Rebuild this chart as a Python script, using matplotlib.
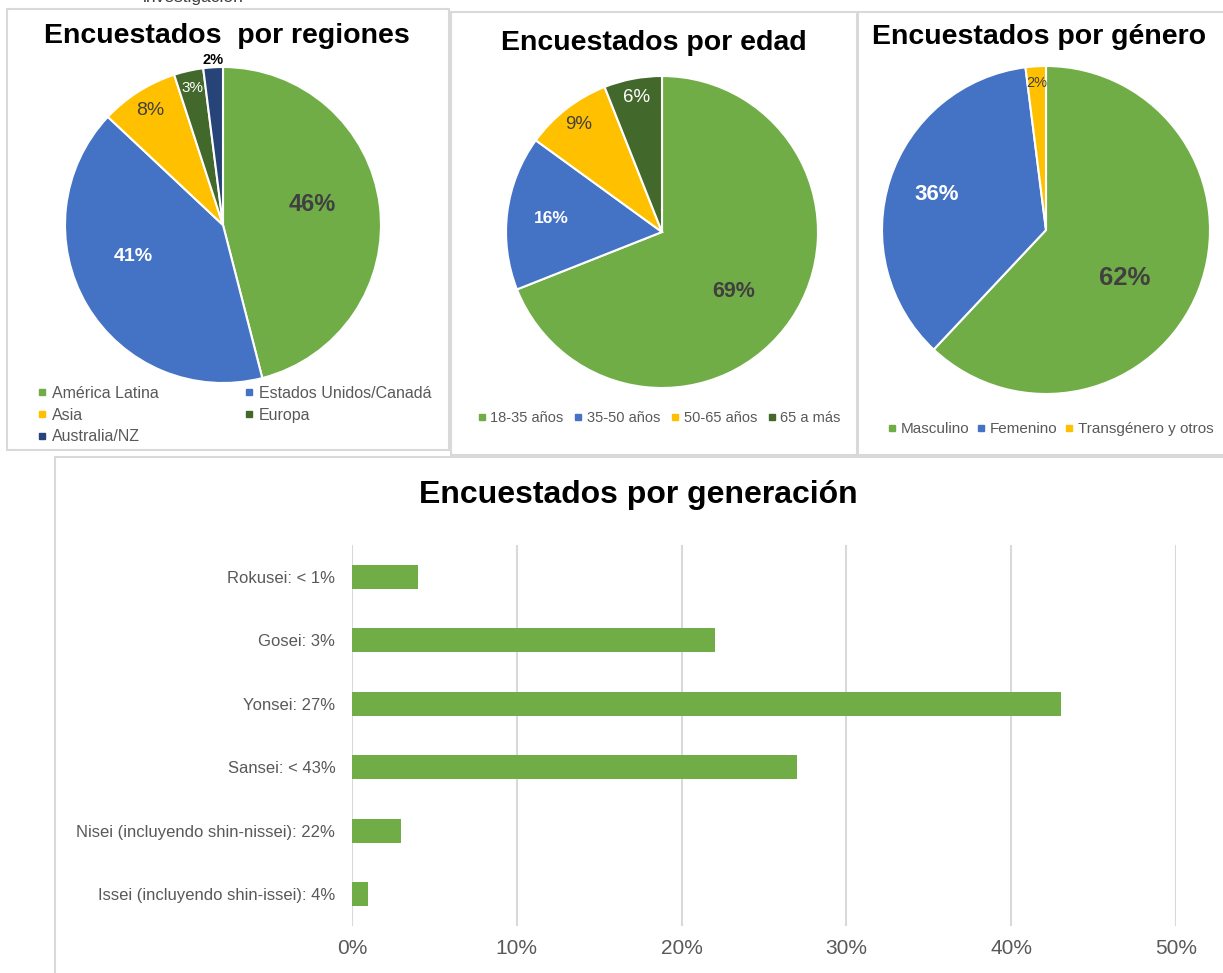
import matplotlib
matplotlib.use('Agg')
import matplotlib.pyplot as plt
from matplotlib.patches import Rectangle
from matplotlib.lines import Line2D
import numpy as np

plt.rcParams['font.family'] = ['Liberation Sans', 'DejaVu Sans']

W, H = 1223, 973

# datos
regiones = ['América Latina', 'Estados Unidos/Canadá', 'Asia', 'Europa', 'Australia/NZ']
regiones_pct = [46, 41, 8, 3, 2]
edades = ['18-35 años', '35-50 años', '50-65 años', '65 a más']
edades_pct = [69, 16, 9, 6]
generos = ['Masculino', 'Femenino', 'Transgénero y otros']
generos_pct = [62, 36, 2]
generaciones = ['Issei (incluyendo shin-issei): 4%', 'Nisei (incluyendo shin-nissei): 22%',
                'Sansei: < 43%', 'Yonsei: 27%', 'Gosei: 3%', 'Rokusei: < 1%']
generaciones_pct = [1, 3, 27, 43, 22, 4]
xticks_pct = [0, 10, 20, 30, 40, 50]

verde = '#70AD47'
azul = '#4472C4'
amarillo = '#FFC000'
verde_osc = '#43682B'
azul_osc = '#264478'
gris_txt = '#595959'
oscuro = '#404040'
borde = '#D9D9D9'


def caja(x0, y0, x1, y1):
    # pixeles (origen arriba izq) -> fraccion de figura
    return [x0 / W, 1 - y1 / H, (x1 - x0) / W, (y1 - y0) / H]


fig = plt.figure(figsize=(W / 100, H / 100), dpi=100)
fig.patch.set_facecolor('white')

# marcos de los paneles
for (x0, y0, x1, y1) in [(7, 9, 449, 450), (451, 12, 857, 455), (858, 12, 1230, 455), (55, 457, 1230, 980)]:
    fig.add_artist(Rectangle((x0 / W, 1 - y1 / H), (x1 - x0) / W, (y1 - y0) / H,
                             transform=fig.transFigure, fill=False, edgecolor=borde, linewidth=1.5))

# texto cortado arriba (viene de la pagina original)
fig.text(143 / W, 1 - 2 / H, 'investigación', fontsize=12.5, color=oscuro, va='baseline', ha='left')


def torta(cx, cy, r, vals, cols, dist, nudge, estilos):
    ax = fig.add_axes(caja(cx - r, cy - r, cx + r, cy + r))
    wedges, _ = ax.pie(vals, colors=cols, startangle=90, counterclock=False,
                       wedgeprops=dict(edgecolor='white', linewidth=1.5))
    ax.set_xlim(-1, 1)
    ax.set_ylim(-1, 1)
    for w, v, d, n, (sz, wt, c) in zip(wedges, vals, dist, nudge, estilos):
        a = np.deg2rad((w.theta1 + w.theta2) / 2 + n)
        ax.text(d * np.cos(a), d * np.sin(a), f'{v}%', ha='center', va='center',
                fontsize=sz, fontweight=wt, color=c, clip_on=False)
    return ax


def leyenda(ax, nombres, cols, x, y, ncol, fs, colsp, orden=None, lsp=0.3):
    hs = [Line2D([], [], marker='s', linestyle='', markersize=4.5, color=c) for c in cols]
    if orden is not None:
        hs = [hs[i] for i in orden]
        nombres = [nombres[i] for i in orden]
    ax.legend(hs, nombres, loc='upper left', bbox_to_anchor=(x / W, 1 - y / H),
              bbox_transform=fig.transFigure, ncol=ncol, frameon=False, fontsize=fs,
              labelcolor=gris_txt, handlelength=0.5, handletextpad=0.35,
              columnspacing=colsp, borderpad=0, borderaxespad=0, labelspacing=lsp)


# Encuestados por regiones
ax1 = torta(223, 225, 158, regiones_pct, [verde, azul, amarillo, verde_osc, azul_osc],
            [0.577, 0.60, 0.857, 0.89, 1.047], [5.5, -11, 0, 0, 0],
            [(17, 'bold', oscuro), (14, 'bold', 'white'), (14, 'normal', oscuro),
             (11, 'normal', 'white'), (10.5, 'bold', 'black')])
fig.text(227 / W, 1 - 36 / H, 'Encuestados  por regiones', fontsize=20.5, fontweight='bold',
         ha='center', va='center')
# leyenda por filas: se reordena para que matplotlib (por columnas) la muestre igual
leyenda(ax1, regiones, [verde, azul, amarillo, verde_osc, azul_osc], 38, 386, 2, 11.5, 5.45,
        orden=[0, 2, 4, 1, 3], lsp=0.42)

# Encuestados por edad
ax2 = torta(662, 232, 156, edades_pct, [verde, azul, amarillo, verde_osc],
            [0.60, 0.716, 0.87, 0.88], [-5.6, 0, 0, 0],
            [(15.5, 'bold', oscuro), (12.5, 'bold', 'white'), (13.5, 'normal', oscuro),
             (13.5, 'normal', 'white')])
fig.text(654 / W, 1 - 43 / H, 'Encuestados por edad', fontsize=20.5, fontweight='bold',
         ha='center', va='center')
leyenda(ax2, edades, [verde, azul, amarillo, verde_osc], 478, 411, 4, 10.5, 0.75)

# Encuestados por genero
ax3 = torta(1046, 230, 164, generos_pct, [verde, azul, amarillo],
            [0.56, 0.70, 0.90], [-9.7, 0, 0],
            [(18.5, 'bold', oscuro), (16, 'bold', 'white'), (10.5, 'normal', oscuro)])
fig.text(1039 / W, 1 - 37 / H, 'Encuestados por género', fontsize=20.5, fontweight='bold',
         ha='center', va='center')
leyenda(ax3, generos, [verde, azul, amarillo], 888, 422, 3, 11, 0.5)

# Encuestados por generacion
ax4 = fig.add_axes(caja(352, 545, 1176, 926))
ax4.barh(range(len(generaciones)), generaciones_pct, height=0.38, color=verde, zorder=3)
ax4.set_xlim(0, 50)
ax4.set_ylim(-0.5, len(generaciones) - 0.5)
ax4.set_xticks(xticks_pct)
ax4.set_xticklabels([f'{t}%' for t in xticks_pct], fontsize=15, color=gris_txt)
ax4.set_yticks(range(len(generaciones)))
ax4.set_yticklabels(generaciones, fontsize=12, color=gris_txt)
ax4.tick_params(axis='both', length=0)
ax4.tick_params(axis='x', pad=9)
ax4.tick_params(axis='y', pad=12)
ax4.grid(axis='x', color=borde, linewidth=1.5, zorder=0)
for s in ax4.spines.values():
    s.set_visible(False)
fig.text(638 / W, 1 - 495 / H, 'Encuestados por generación', fontsize=23, fontweight='bold',
         ha='center', va='center')

plt.savefig('out.png', dpi=100)
plt.close()
